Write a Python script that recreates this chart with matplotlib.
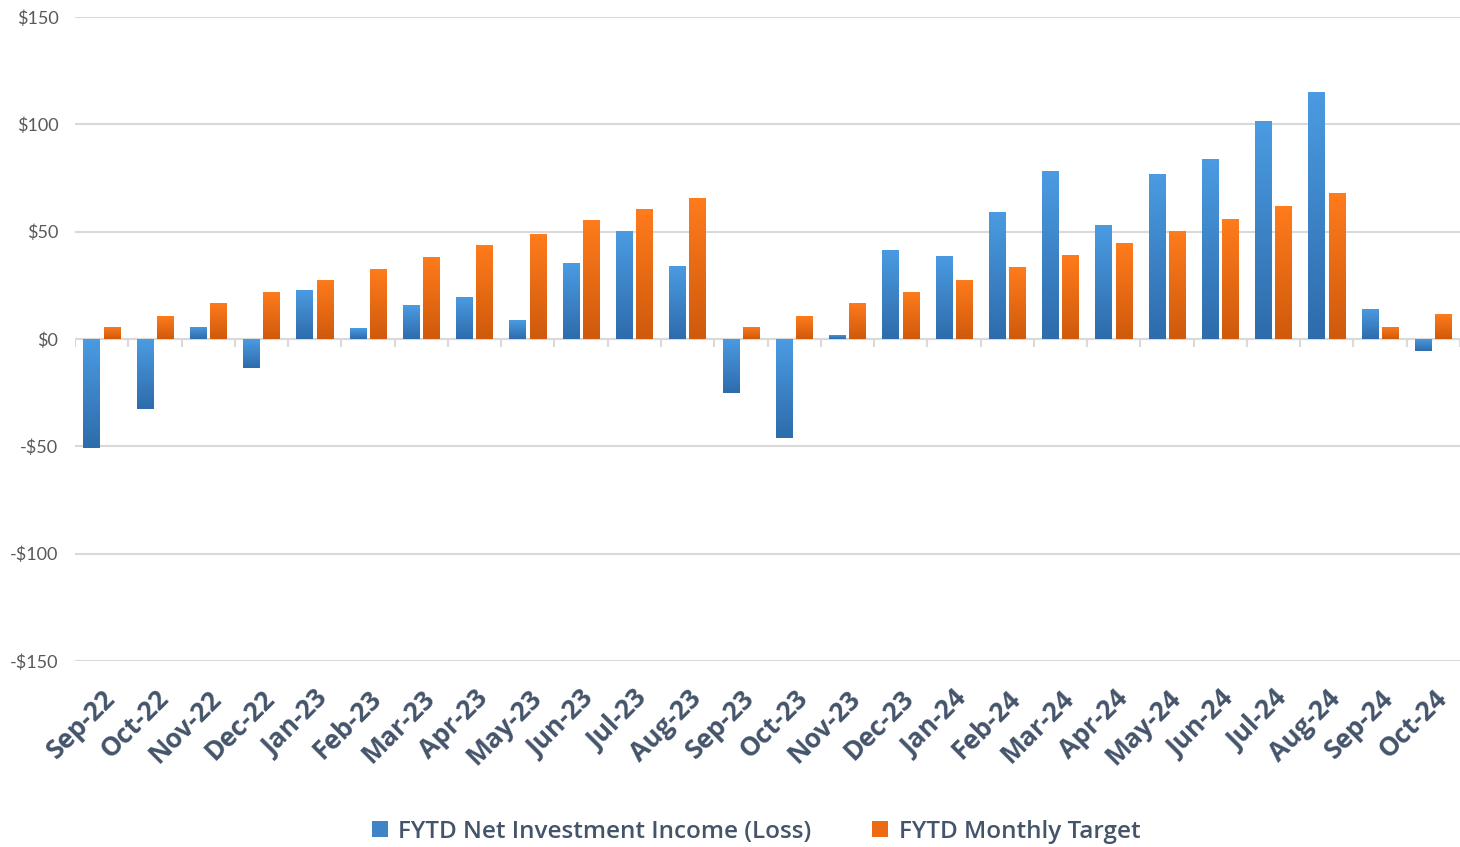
import numpy as np
import matplotlib.pyplot as plt
from matplotlib.colors import LinearSegmentedColormap

months = ['Sep-22', 'Oct-22', 'Nov-22', 'Dec-22', 'Jan-23', 'Feb-23', 'Mar-23', 'Apr-23',
          'May-23', 'Jun-23', 'Jul-23', 'Aug-23', 'Sep-23', 'Oct-23', 'Nov-23', 'Dec-23',
          'Jan-24', 'Feb-24', 'Mar-24', 'Apr-24', 'May-24', 'Jun-24', 'Jul-24', 'Aug-24',
          'Sep-24', 'Oct-24']
net_income = [-51, -32.6, 5.6, -13.5, 22.8, 5, 15.8, 19.6, 8.8, 35.4, 50.3, 34,
              -25.2, -46, 1.9, 41.5, 38.7, 59.2, 78.2, 53.1, 76.9, 83.8, 101.5, 115,
              14, -5.6]
target = [5.6, 10.7, 16.8, 21.9, 27.5, 32.6, 38.2, 43.8, 48.9, 55.4, 60.5, 65.7,
          5.6, 10.7, 16.8, 21.9, 27.5, 33.5, 39.1, 44.7, 50.3, 55.9, 61.9, 68,
          5.6, 11.6]
yticks = [-150, -100, -50, 0, 50, 100, 150]

blue_cmap = LinearSegmentedColormap.from_list('b', ['#2e6cab', '#4b9be2'])
orange_cmap = LinearSegmentedColormap.from_list('o', ['#cf5a0c', '#ff7b1c'])

fig = plt.figure(figsize=(14.6, 8.47), dpi=100)
ax = fig.add_axes([0.0514, 0.2196, 0.9486, 0.7604])

x = np.arange(len(months))
w = 0.31
b1 = ax.bar(x - 0.19, net_income, w, color='#3d85c6', label='FYTD Net Investment Income (Loss)', zorder=2)
b2 = ax.bar(x + 0.19, target, w, color='#ee6a12', label='FYTD Monthly Target', zorder=2)

ax.set_xlim(-0.5, len(months) - 0.5)
ax.set_ylim(-150, 150)

# gradient fill on each bar
grad = np.linspace(0, 1, 100).reshape(-1, 1)
for bars, cmap in [(b1, blue_cmap), (b2, orange_cmap)]:
    for p in bars:
        x0, y0 = p.get_x(), p.get_y()
        x1, y1 = x0 + p.get_width(), y0 + p.get_height()
        lo, hi = min(y0, y1), max(y0, y1)
        im = ax.imshow(grad, cmap=cmap, aspect='auto', origin='lower',
                       extent=(x0, x1, lo, hi), zorder=3)
        im.set_clip_path(p)

ax.set_yticks(yticks)
ax.set_yticklabels([f'-${abs(v)}' if v < 0 else f'${v}' for v in yticks],
                   fontsize=13, color='#595959', family='Lato')
ax.yaxis.grid(True, color='#d9d9d9', linewidth=1.5, zorder=0)
ax.set_axisbelow(True)
ax.tick_params(axis='y', length=0, pad=12)

# zero line with little ticks between months
ax.axhline(0, color='#d9d9d9', linewidth=1.5, zorder=1)
ax.vlines(np.arange(len(months) + 1) - 0.5, -3.7, 0, color='#d9d9d9', linewidth=1.5, zorder=1)

ax.set_xticks(x)
ax.set_xticklabels(months, rotation=45, ha='right', rotation_mode='anchor',
                   fontsize=19, fontweight='bold', color='#44546a', family='Open Sans')
ax.tick_params(axis='x', length=0, pad=17)

for s in ax.spines.values():
    s.set_visible(False)

leg = fig.legend(handles=[b1, b2], loc='lower center', bbox_to_anchor=(0.518, -0.022), ncol=2,
                 frameon=False, handlelength=0.65, handleheight=0.65, handletextpad=0.45,
                 columnspacing=2.5, prop={'family': 'Open Sans', 'size': 17.5, 'weight': 'semibold'})
for t in leg.get_texts():
    t.set_color('#44546a')

fig.savefig('out.png', dpi=100)
